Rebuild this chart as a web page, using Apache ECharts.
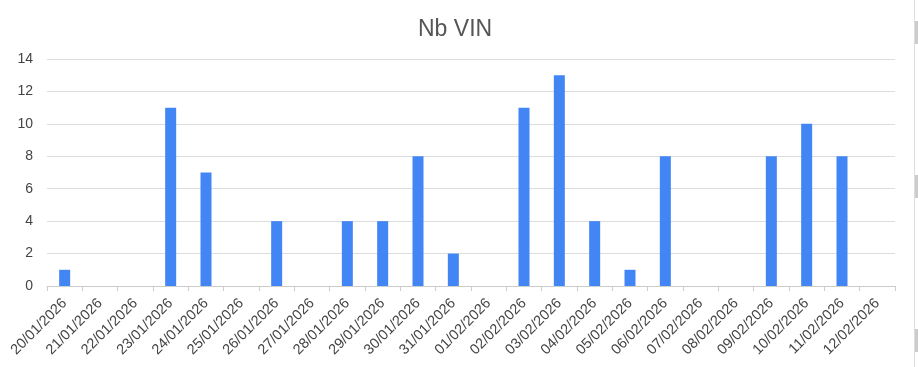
<!DOCTYPE html>
<html><head><meta charset="utf-8">
<script src="https://cdn.jsdelivr.net/npm/echarts@6/dist/echarts.min.js"></script>
<style>html,body{margin:0;padding:0;background:#fff}#c{width:918px;height:367px}</style>
</head><body><div id="c"></div>
<script>
const categories = ["20/01/2026","21/01/2026","22/01/2026","23/01/2026","24/01/2026","25/01/2026","26/01/2026","27/01/2026","28/01/2026","29/01/2026","30/01/2026","31/01/2026","01/02/2026","02/02/2026","03/02/2026","04/02/2026","05/02/2026","06/02/2026","07/02/2026","08/02/2026","09/02/2026","10/02/2026","11/02/2026","12/02/2026"];
const nbVin = [1,0,0,11,7,0,4,0,4,4,8,2,0,11,13,4,1,8,0,0,8,10,8,0];
const chart = echarts.init(document.getElementById('c'), null, {renderer:'canvas'});
chart.setOption({
  animation:false,
  title:{text:'Nb VIN', left:413, top:13, textStyle:{fontFamily:'Liberation Sans, Arial', fontSize:23, fontWeight:'normal', color:'#555'}},
  grid:{left:47, right:23, top:59, bottom:81},
  xAxis:{type:'category', data:categories,
    axisLine:{lineStyle:{color:'#ccc'}},
    axisTick:{show:true, length:5, lineStyle:{color:'#ccc'}},
    axisLabel:{rotate:45, interval:0, fontFamily:'Liberation Sans, Arial', fontSize:14.5, color:'#444', margin:15}},
  yAxis:{type:'value', min:0, max:14, interval:2,
    axisLine:{show:false}, axisTick:{show:false},
    splitLine:{lineStyle:{color:'#ddd'}},
    axisLabel:{fontFamily:'Liberation Sans, Arial', fontSize:14, color:'#444', margin:14}},
  series:[{type:'bar', data:nbVin, barWidth:11, itemStyle:{color:'#4285f4'}}],
  graphic:[
    {type:'line', shape:{x1:914.5,y1:0,x2:914.5,y2:367}, style:{stroke:'#ddd', lineWidth:1}},
    {type:'rect', shape:{x:915,y:21,width:3,height:23}, style:{fill:'#ccc'}},
    {type:'rect', shape:{x:915,y:175,width:3,height:23}, style:{fill:'#ccc'}},
    {type:'rect', shape:{x:915,y:329,width:3,height:23}, style:{fill:'#ccc'}}
  ]
});
</script></body></html>
